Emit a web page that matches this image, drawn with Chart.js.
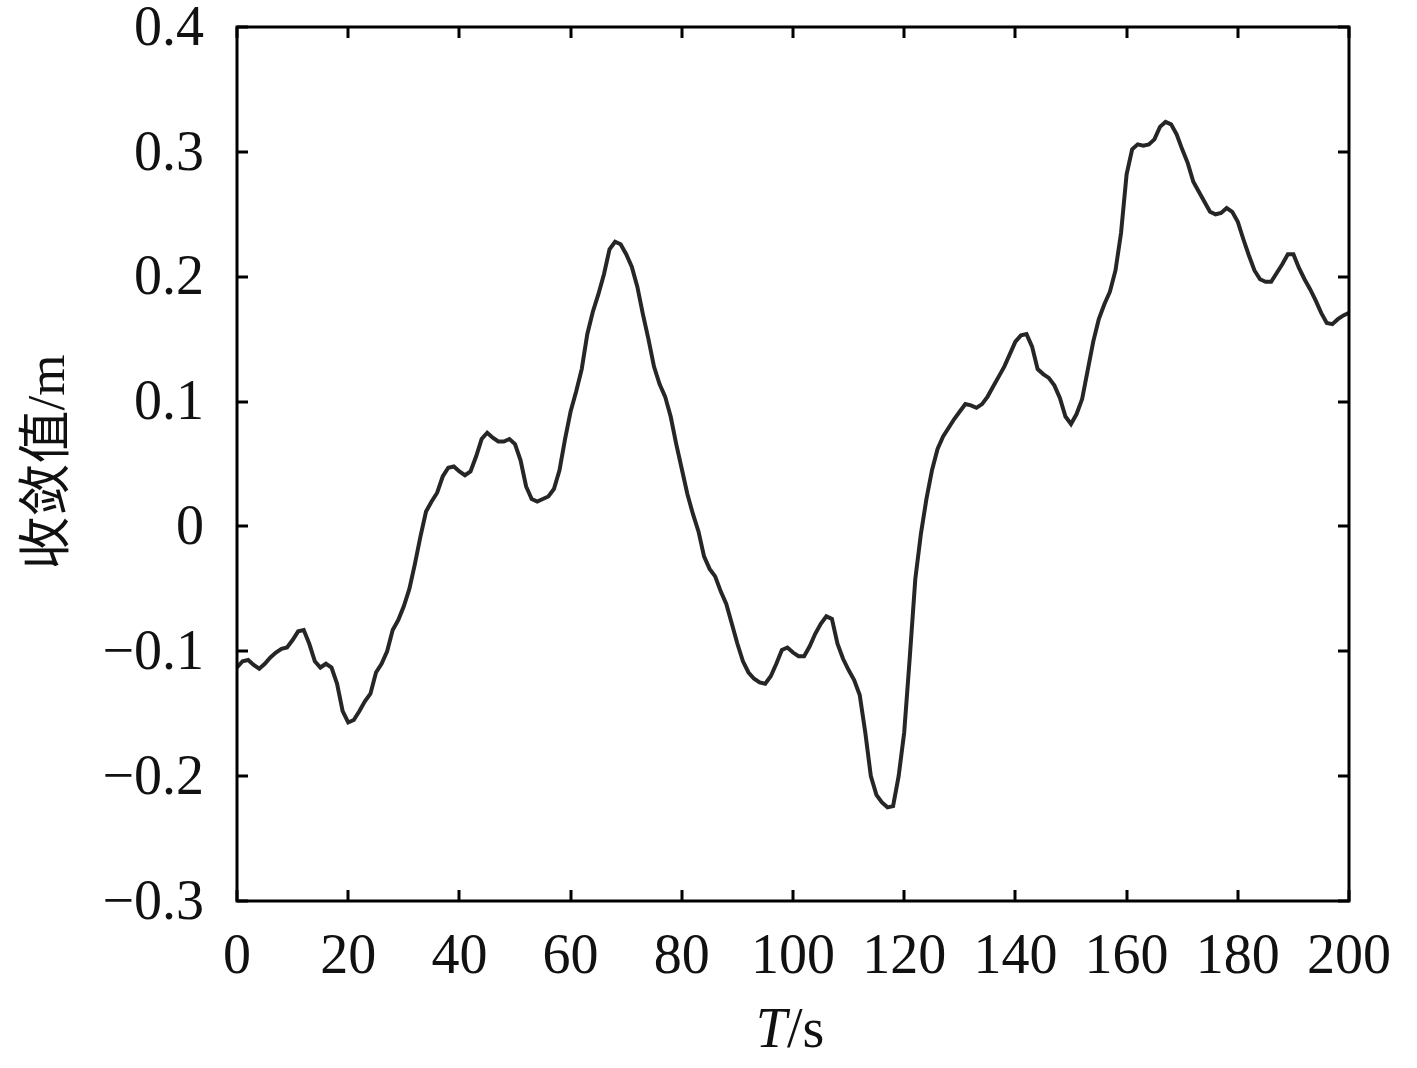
<!DOCTYPE html>
<html>
<head>
<meta charset="utf-8">
<script src="https://cdn.jsdelivr.net/npm/chart.js@4/dist/chart.umd.min.js"></script>
<style>
  html, body { margin: 0; padding: 0; background: #ffffff; }
  #wrap { width: 1417px; height: 1068px; }
</style>
</head>
<body>
<div id="wrap"><canvas id="c" width="1417" height="1068"></canvas></div>
<script>
// ---- data ----
const timeSeconds = Array.from({ length: 201 }, (_, i) => i);
const convergenceValues = [
  -0.113,-0.108,-0.107,-0.111,-0.114,-0.110,-0.105,-0.101,-0.098,-0.097,
  -0.091,-0.084,-0.083,-0.094,-0.108,-0.113,-0.110,-0.113,-0.126,-0.148,
  -0.157,-0.155,-0.148,-0.140,-0.134,-0.117,-0.110,-0.100,-0.083,-0.075,
  -0.064,-0.050,-0.030,-0.008,0.012,0.020,0.027,0.040,0.047,0.048,
  0.044,0.041,0.044,0.056,0.070,0.075,0.071,0.068,0.068,0.070,
  0.066,0.053,0.032,0.022,0.020,0.022,0.024,0.030,0.045,0.070,
  0.092,0.108,0.126,0.154,0.172,0.186,0.202,0.222,0.228,0.226,
  0.218,0.208,0.192,0.170,0.150,0.128,0.114,0.104,0.088,0.066,
  0.046,0.026,0.010,-0.004,-0.024,-0.034,-0.040,-0.052,-0.062,-0.078,
  -0.094,-0.108,-0.117,-0.122,-0.125,-0.126,-0.120,-0.110,-0.099,-0.097,
  -0.101,-0.104,-0.104,-0.096,-0.086,-0.078,-0.072,-0.074,-0.094,-0.106,
  -0.115,-0.123,-0.135,-0.165,-0.200,-0.215,-0.221,-0.225,-0.224,-0.200,
  -0.165,-0.105,-0.042,-0.006,0.022,0.045,0.062,0.072,0.079,0.086,
  0.092,0.098,0.097,0.095,0.098,0.104,0.112,0.120,0.128,0.138,
  0.148,0.153,0.154,0.144,0.126,0.122,0.119,0.113,0.103,0.088,
  0.082,0.090,0.102,0.125,0.148,0.166,0.178,0.188,0.205,0.235,
  0.282,0.302,0.306,0.305,0.306,0.310,0.320,0.324,0.322,0.314,
  0.302,0.291,0.276,0.268,0.260,0.252,0.250,0.251,0.255,0.252,
  0.244,0.230,0.217,0.205,0.198,0.196,0.196,0.203,0.210,0.218,
  0.218,0.207,0.198,0.190,0.181,0.171,0.163,0.162,0.166,0.169,
  0.171
];
const xTickValues = [0, 20, 40, 60, 80, 100, 120, 140, 160, 180, 200];
const xTickLabels = ['0', '20', '40', '60', '80', '100', '120', '140', '160', '180', '200'];
const yTickValues = [-0.3, -0.2, -0.1, 0, 0.1, 0.2, 0.3, 0.4];
const yTickLabels = ['\u22120.3', '\u22120.2', '\u22120.1', '0', '0.1', '0.2', '0.3', '0.4'];
const yAxisTitle = '收敛值/m';
const xAxisTitleItalic = 'T';
const xAxisTitleRest = '/s';

// ---- styles ----
const SERIF = '"Liberation Serif", "Times New Roman", serif';
const TICK_FONT_SIZE = 56;

const points = timeSeconds.map((t, i) => ({ x: t, y: convergenceValues[i] }));

const framePlugin = {
  id: 'framePlugin',
  afterDraw(chart) {
    const { ctx, chartArea: a, scales } = chart;
    const xs = scales.x, ys = scales.y;
    ctx.save();
    ctx.strokeStyle = '#000000';
    ctx.lineWidth = 3;
    ctx.lineCap = 'butt';
    ctx.strokeRect(a.left, a.top, a.right - a.left, a.bottom - a.top);
    const tl = 11;
    ctx.beginPath();
    xTickValues.forEach(v => {
      const px = Math.round(xs.getPixelForValue(v));
      ctx.moveTo(px, a.bottom); ctx.lineTo(px, a.bottom - tl);
      ctx.moveTo(px, a.top); ctx.lineTo(px, a.top + tl);
    });
    yTickValues.forEach(v => {
      const py = Math.round(ys.getPixelForValue(v));
      ctx.moveTo(a.left, py); ctx.lineTo(a.left + tl, py);
      ctx.moveTo(a.right, py); ctx.lineTo(a.right - tl, py);
    });
    ctx.stroke();

    // axis titles
    ctx.fillStyle = '#111111';
    ctx.textBaseline = 'middle';
    // y title
    ctx.save();
    ctx.translate(50, 462);
    ctx.rotate(-Math.PI / 2);
    ctx.textAlign = 'center';
    ctx.font = '53px ' + SERIF + ', "Noto Sans CJK SC"';
    ctx.fillText(yAxisTitle, 0, 0);
    ctx.restore();
    // x title
    const fItalic = 'italic 56px ' + SERIF;
    const fNormal = '56px ' + SERIF;
    ctx.font = fItalic;
    const w1 = ctx.measureText(xAxisTitleItalic).width;
    ctx.font = fNormal;
    const w2 = ctx.measureText(xAxisTitleRest).width;
    const cx = (a.left + a.right) / 2 - 3;
    const startX = cx - (w1 + w2) / 2;
    ctx.textAlign = 'left';
    ctx.font = fItalic;
    ctx.fillText(xAxisTitleItalic, startX, 1032);
    ctx.font = fNormal;
    ctx.fillText(xAxisTitleRest, startX + w1, 1032);
    ctx.restore();
  }
};

new Chart(document.getElementById('c'), {
  type: 'line',
  data: {
    datasets: [{
      data: points,
      borderColor: '#262626',
      borderWidth: 4,
      pointRadius: 0,
      tension: 0,
      fill: false
    }]
  },
  options: {
    responsive: false,
    animation: false,
    devicePixelRatio: 1,
    layout: { padding: { top: 27, right: 68, left: 0, bottom: 0 } },
    plugins: { legend: { display: false }, tooltip: { enabled: false }, title: { display: false } },
    scales: {
      x: {
        type: 'linear',
        min: 0, max: 200,
        afterBuildTicks(scale) { scale.ticks = xTickValues.map(v => ({ value: v })); },
        afterFit(scale) { scale.height = 167; scale.paddingLeft = 0; scale.paddingRight = 0; },
        grid: { display: false },
        border: { display: false },
        ticks: {
          autoSkip: false,
          maxRotation: 0,
          padding: 21,
          color: '#111111',
          font: { family: SERIF, size: TICK_FONT_SIZE, lineHeight: 1 },
          callback(value) { const i = xTickValues.indexOf(value); return i >= 0 ? xTickLabels[i] : ''; }
        }
      },
      y: {
        type: 'linear',
        min: -0.3, max: 0.4,
        afterBuildTicks(scale) { scale.ticks = yTickValues.map(v => ({ value: v })); },
        afterFit(scale) { scale.width = 237; scale.paddingTop = 0; scale.paddingBottom = 0; },
        grid: { display: false },
        border: { display: false },
        ticks: {
          autoSkip: false,
          padding: 25,
          labelOffset: 3,
          color: '#111111',
          font: { family: SERIF, size: TICK_FONT_SIZE, lineHeight: 1 },
          callback(value) {
            const i = yTickValues.findIndex(v => Math.abs(v - value) < 1e-9);
            return i >= 0 ? yTickLabels[i] : '';
          }
        }
      }
    }
  },
  plugins: [framePlugin]
});
</script>
</body>
</html>
